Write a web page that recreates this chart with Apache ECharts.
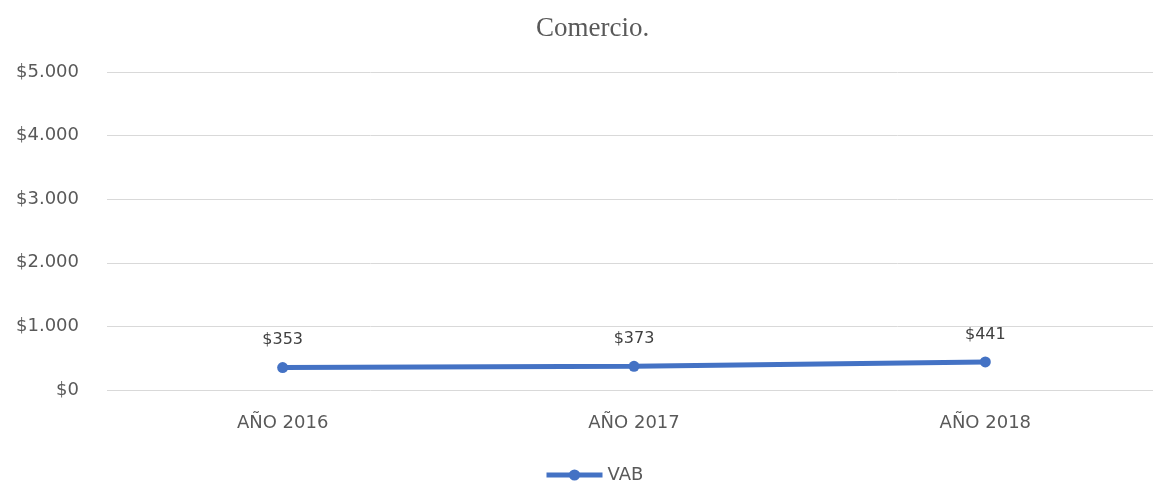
<!DOCTYPE html>
<html>
<head>
<meta charset="utf-8">
<script src="https://cdn.jsdelivr.net/npm/echarts@6/dist/echarts.min.js"></script>
<style>
	html, body { margin: 0; padding: 0; background: #fff; overflow: hidden; }
	#chart { width: 1161px; height: 483px; }
</style>
</head>
<body>
<div id="chart"></div>
<script>
var categories = ['AÑO 2016', 'AÑO 2017', 'AÑO 2018'];
var vabValues = [353, 373, 441];
var yTicks = [0, 1000, 2000, 3000, 4000, 5000];

// formato con punto de miles
var formatMoney = function(v) {
	return '$' + String(v).replace(/\B(?=(\d{3})+(?!\d))/g, '.');
};

var myChart = echarts.init(document.getElementById('chart'));
myChart.setOption({
	animation: false,
	title: {
		text: 'Comercio.',
		left: 531,
		top: 10,
		textStyle: {
			fontFamily: 'Liberation Serif',
			fontWeight: 'normal',
			fontSize: 27,
			color: '#595959'
		}
	},
	legend: {
		bottom: -6,
		left: 539,
		itemWidth: 56,
		itemHeight: 14,
		itemGap: 4,
		lineStyle: { width: 5 },
		textStyle: { fontFamily: 'DejaVu Sans', fontSize: 18, color: '#595959' },
		data: ['VAB']
	},
	grid: {
		left: 107,
		top: 72,
		right: 0,
		height: 318
	},
	xAxis: {
		type: 'category',
		data: categories,
		axisLine: { show: false },
		axisTick: { show: false },
		axisLabel: {
			margin: 24,
			fontFamily: 'DejaVu Sans',
			fontSize: 18,
			color: '#595959'
		}
	},
	yAxis: {
		type: 'value',
		min: yTicks[0],
		max: yTicks[yTicks.length - 1],
		interval: 1000,
		axisLine: { show: false },
		axisTick: { show: false },
		splitLine: { lineStyle: { color: '#d9d9d9', width: 1 } },
		axisLabel: {
			margin: 28,
			fontFamily: 'DejaVu Sans',
			fontSize: 18,
			color: '#595959',
			formatter: formatMoney
		}
	},
	series: [{
		name: 'VAB',
		type: 'line',
		data: vabValues,
		symbol: 'circle',
		symbolSize: 11,
		lineStyle: { width: 5, color: '#4472c4' },
		itemStyle: { color: '#4472c4' },
		label: {
			show: true,
			position: 'top',
			distance: 14,
			fontFamily: 'DejaVu Sans',
			fontSize: 16,
			color: '#404040',
			formatter: function(p) { return formatMoney(p.value); }
		}
	}]
});
</script>
</body>
</html>
